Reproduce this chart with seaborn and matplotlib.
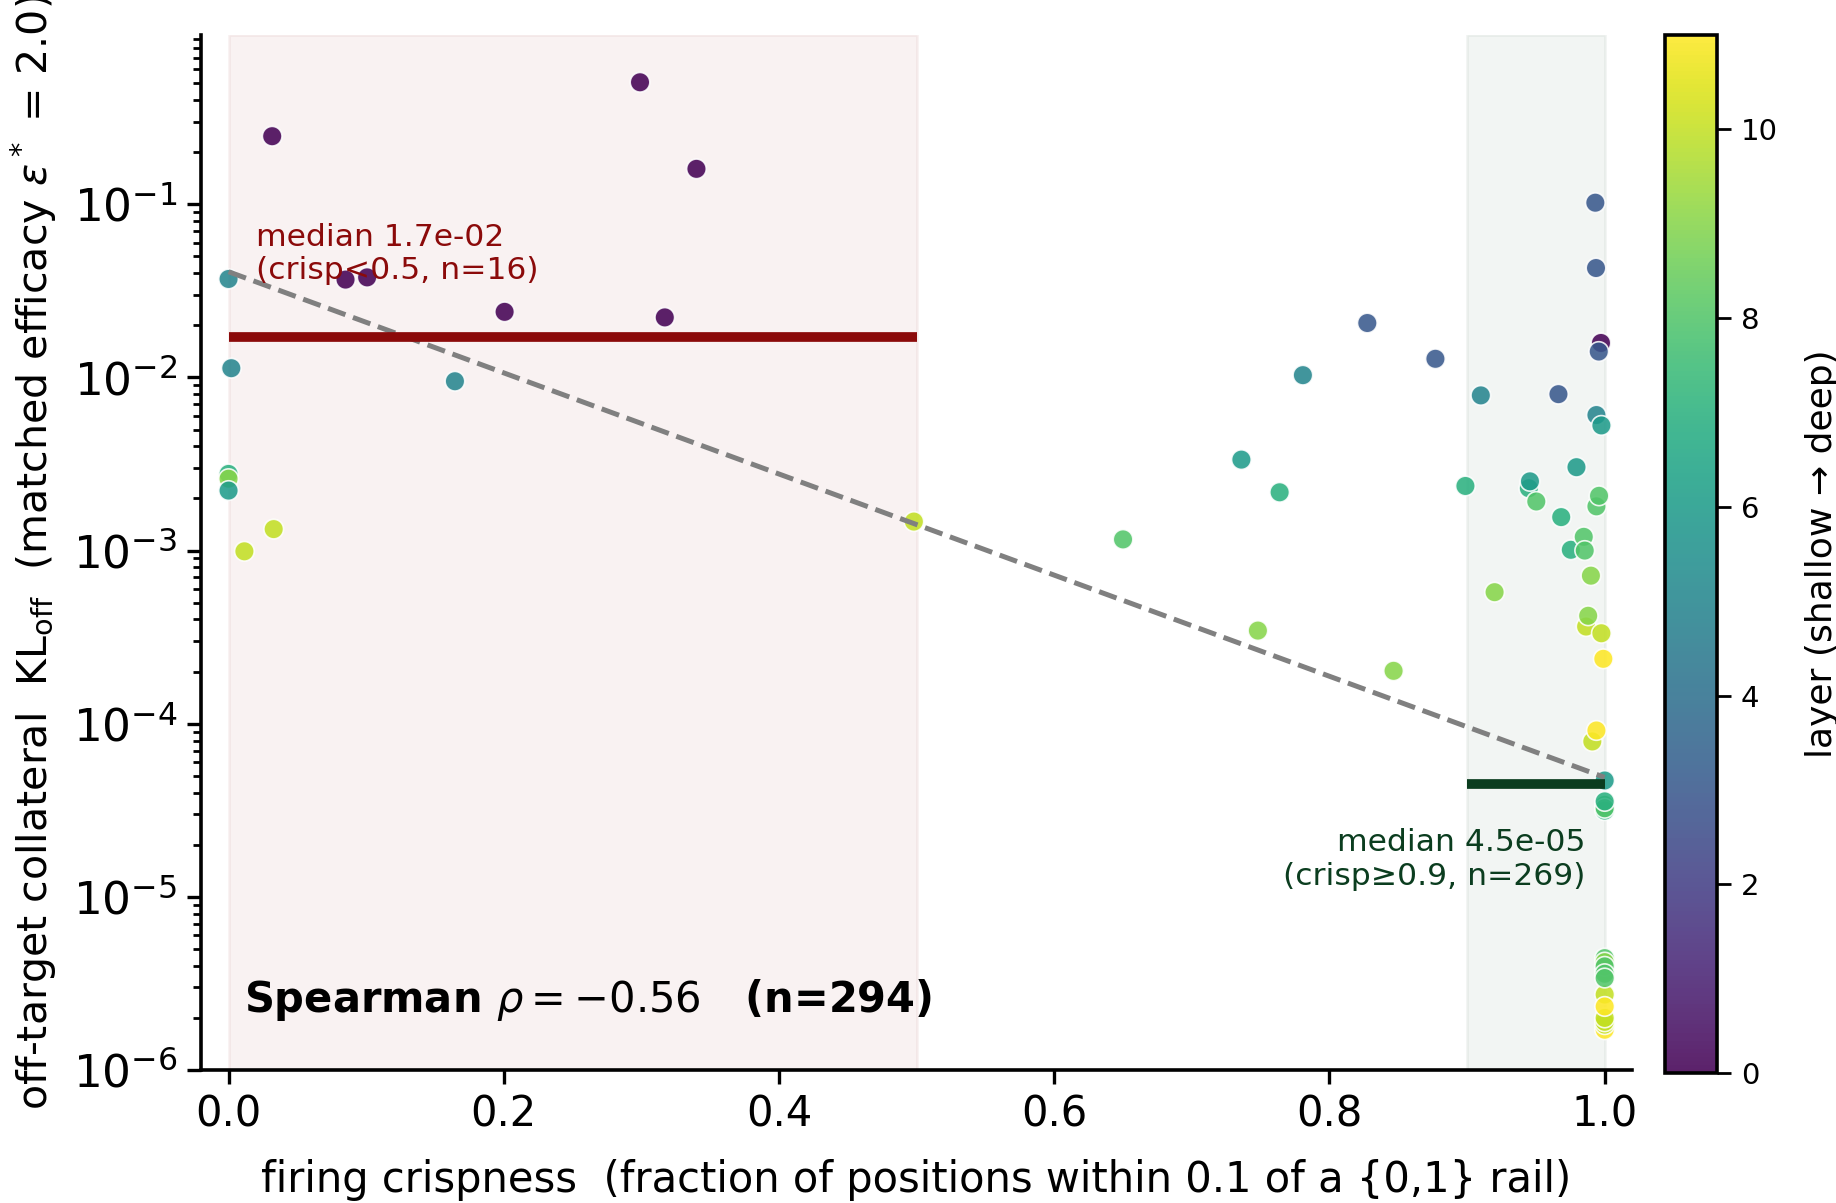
import numpy as np
import pandas as pd
import matplotlib
matplotlib.use("Agg")
from matplotlib import pyplot as plt
import seaborn as sns

# --- data --------------------------------------------------------------
crisp = [
    # crisp < 0.5
    0.000, 0.002, 0.000, 0.000, 0.000, 0.0115, 0.0328, 0.0317,
    0.085, 0.1007, 0.1645, 0.2006, 0.299, 0.317, 0.340, 0.498,
    # 0.5 .. 0.9
    0.650, 0.736, 0.748, 0.7638, 0.7807, 0.8275, 0.8466, 0.877, 0.8988,
    # crisp >= 0.9
    0.910, 0.920, 0.9449, 0.9457, 0.9503, 0.9664, 0.9684, 0.9754,
    0.9795, 0.9848, 0.9855, 0.9865, 0.988, 0.990, 0.991, 0.9932,
    0.9937, 0.994, 0.994, 0.994, 0.9973, 0.9957, 0.9959, 0.9976,
    0.9976, 0.999,
    1.0, 1.0, 1.0, 1.0, 1.0, 1.0, 1.0,
    1.0, 1.0, 1.0, 1.0, 1.0, 1.0, 1.0, 1.0, 1.0, 1.0, 1.0, 1.0,
]
kl_off = [
    3.70e-2, 1.13e-2, 2.77e-3, 2.60e-3, 2.22e-3, 9.9e-4, 1.33e-3, 2.47e-1,
    3.67e-2, 3.78e-2, 9.5e-3, 2.39e-2, 5.06e-1, 2.22e-2, 1.60e-1, 1.47e-3,
    1.16e-3, 3.35e-3, 3.45e-4, 2.17e-3, 1.03e-2, 2.06e-2, 2.02e-4, 1.28e-2, 2.36e-3,
    7.87e-3, 5.75e-4, 2.29e-3, 2.51e-3, 1.92e-3, 8.0e-3, 1.56e-3, 1.01e-3,
    3.03e-3, 1.20e-3, 1.00e-3, 3.64e-4, 4.2e-4, 7.16e-4, 7.9e-5, 1.02e-1,
    4.28e-2, 6.06e-3, 1.80e-3, 9.14e-5, 1.58e-2, 1.41e-2, 2.07e-3, 5.28e-3,
    3.33e-4, 2.37e-4,
    3.30e-5, 3.35e-5, 3.40e-5, 3.15e-5, 3.25e-5, 3.56e-5, 4.70e-5,
    1.71e-6, 1.83e-6, 1.90e-6, 2.00e-6, 2.73e-6, 3.70e-6, 4.43e-6, 4.20e-6,
    3.97e-6, 3.60e-6, 3.40e-6, 2.33e-6,
]
layer = [
    5, 5, 7, 9, 6, 10, 10, 0,
    0, 0, 5, 0, 0, 0, 0, 10,
    8, 6, 9, 7, 5, 3, 9, 3, 7,
    5, 9, 7, 6, 8, 3, 7, 7,
    6, 8, 8, 10, 9, 9, 10, 3,
    3, 5, 8, 11, 0, 3, 8, 6,
    10, 11,
    8, 7, 8, 7, 8, 7, 6,
    11, 10, 10, 10, 10, 9, 8, 9,
    8, 8, 8, 11,
]

# summary values shown on the chart
med_lo, n_lo = 1.7e-2, 16      # crisp < 0.5
med_hi, n_hi = 4.5e-5, 269     # crisp >= 0.9
rho, n_all = -0.56, 294
fit_log10_intercept, fit_log10_slope = -1.39, -2.92

df = pd.DataFrame({"crisp": crisp, "kl": kl_off, "layer": layer})

# --- plot ----------------------------------------------------------------
sns.set_style("ticks")
plt.rcParams["font.family"] = ["DejaVu Sans"]
for key in ["text.color", "axes.labelcolor", "xtick.color", "ytick.color", "axes.edgecolor"]:
    plt.rcParams[key] = "black"

red = "#8b0a0a"
green = "#0b3d1f"

fig = plt.figure(figsize=(9.18, 6.015), dpi=200)
ax = fig.add_axes([0.1095, 0.1105, 0.7795, 0.8605])
cax = fig.add_axes([0.9069, 0.108, 0.0283, 0.863])

ax.axvspan(0.0, 0.5, color=red, alpha=0.05)
ax.axvspan(0.9, 1.0, color=green, alpha=0.05)

sns.scatterplot(
    data=df, x="crisp", y="kl", hue="layer",
    palette="viridis", hue_norm=(0, 11),
    s=50, alpha=0.87, edgecolor="white", linewidth=0.6,
    legend=False, ax=ax,
)

xs = np.array([0.0, 1.0])
ax.plot(xs, 10 ** (fit_log10_intercept + fit_log10_slope * xs),
        ls="--", color="grey", lw=1.8)

ax.plot([0.0, 0.5], [med_lo, med_lo], color=red, lw=3.5, solid_capstyle="butt")
ax.plot([0.9, 1.0], [med_hi, med_hi], color=green, lw=3.5, solid_capstyle="butt")

ax.text(0.02, med_lo * 2.0, f"median {med_lo:.1e}\n(crisp<0.5, n={n_lo})",
        color=red, fontsize=11.3, va="bottom", ha="left")
ax.text(0.986, med_hi / 1.8, f"median {med_hi:.1e}\n(crisp≥0.9, n={n_hi})",
        color=green, fontsize=11.3, va="top", ha="right")

ax.text(0.03, 0.045, rf"Spearman $\rho = {rho:.2f}$   (n={n_all})",
        transform=ax.transAxes, fontsize=15, fontweight="bold",
        va="bottom", ha="left")

ax.set_yscale("log")
ax.set_ylim(1e-6, 0.95)
ax.set_xlim(-0.02, 1.02)
ax.set_xticks([0.0, 0.2, 0.4, 0.6, 0.8, 1.0])

ax.set_xlabel("firing crispness  (fraction of positions within 0.1 of a {0,1} rail)",
              fontsize=15, labelpad=8.5)
ax.set_ylabel(r"off-target collateral  KL$_{\mathrm{off}}$  "
              r"(matched efficacy $\varepsilon^*$ = 2.0)", fontsize=14.8, labelpad=5)
ax.tick_params(axis="x", which="major", labelsize=15, length=5, width=1.2)
ax.tick_params(axis="y", which="major", labelsize=16.3, length=5, width=1.2)
ax.tick_params(axis="y", which="minor", length=3, width=1.0)
sns.despine(ax=ax)
for side in ["left", "bottom"]:
    ax.spines[side].set_linewidth(1.3)

sm = plt.cm.ScalarMappable(cmap="viridis", norm=plt.Normalize(0, 11))
cb = fig.colorbar(sm, cax=cax, alpha=0.87)
cb.set_ticks([0, 2, 4, 6, 8, 10])
cb.ax.tick_params(labelsize=10.5, length=5, width=1.0)
cb.outline.set_linewidth(1.3)
cb.set_label("layer (shallow → deep)", fontsize=13, labelpad=10)

fig.savefig("out.png", dpi=200)
